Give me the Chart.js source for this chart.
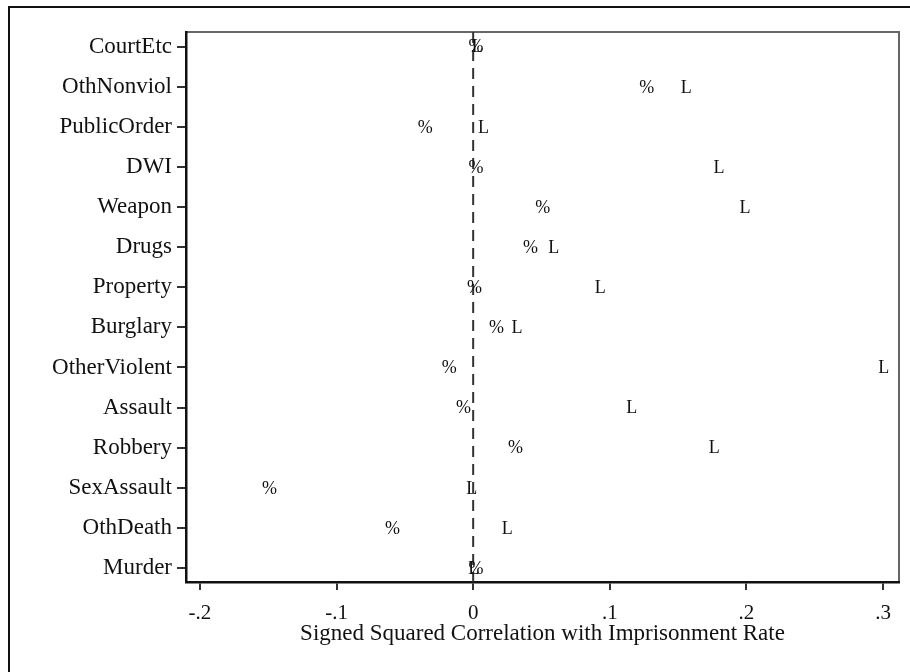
<!DOCTYPE html>
<html>
<head>
<meta charset="utf-8">
<title>Signed squared correlations</title>
<script src="https://cdn.jsdelivr.net/npm/chart.js@4.4.0/dist/chart.umd.min.js"></script>
<style>
  html, body { margin: 0; padding: 0; background: #fff; }
  #wrap { position: relative; width: 910px; height: 672px; overflow: hidden; }
  /* outer frame: only top and left edges fall inside the page */
  #frame { position: absolute; left: 8px; top: 6px; width: 1000px; height: 1000px;
           border-top: 2px solid #111; border-left: 2px solid #111; }
  #myChart { position: absolute; left: 0; top: 0; }
</style>
</head>
<body>
<div id="wrap">
  <div id="frame"></div>
  <canvas id="myChart" width="910" height="672"></canvas>
</div>
<script>
// offense categories, bottom to top
var offenses = ["Murder", "OthDeath", "SexAssault", "Robbery", "Assault", "OtherViolent",
                "Burglary", "Property", "Drugs", "Weapon", "DWI", "PublicOrder", "OthNonviol", "CourtEtc"];

// "%" markers
var pctValues = [0.002, -0.059, -0.149, 0.031, -0.007, -0.0175,
                 0.017, 0.001, 0.042, 0.051, 0.002, -0.035, 0.127, 0.002];

// "L" markers
var levelValues = [0.0004, 0.025, -0.001, 0.1765, 0.116, 0.3005,
                   0.032, 0.093, 0.059, 0.199, 0.18, 0.0075, 0.156, 0.003];

var xTicks = [-0.2, -0.1, 0, 0.1, 0.2, 0.3];
var xTitle = "Signed Squared Correlation with Imprisonment Rate";

var serif = "'Liberation Serif', 'Times New Roman', serif";

function points(vals) {
    return vals.map(function (v, i) { return { x: v, y: i + 1 }; });
}

function fmtTick(v) {
    if (v === 0) return "0";
    var s = Math.abs(v).toFixed(1).replace(/^0/, "");
    return (v < 0 ? "-" : "") + s;
}

// grey box around the plot region (left/bottom get covered by the axis lines)
var plotBox = {
    id: 'plotBox',
    beforeDraw: function (chart) {
        var a = chart.chartArea, c = chart.ctx;
        c.save();
        c.strokeStyle = '#666';
        c.lineWidth = 2;
        c.strokeRect(a.left, a.top, a.right - a.left, a.bottom - a.top);
        c.restore();
    }
};

// dashed reference line at x = 0
var zeroLine = {
    id: 'zeroLine',
    beforeDatasetsDraw: function (chart) {
        var a = chart.chartArea, c = chart.ctx;
        var x = chart.scales.x.getPixelForValue(0);
        c.save();
        c.strokeStyle = '#333';
        c.lineWidth = 2;
        c.setLineDash([11, 7]);
        c.beginPath();
        c.moveTo(x, a.top);
        c.lineTo(x, a.bottom);
        c.stroke();
        c.restore();
    }
};

// draw each point as a text symbol
var symbolMarks = {
    id: 'symbolMarks',
    afterDatasetsDraw: function (chart) {
        var c = chart.ctx;
        c.save();
        c.fillStyle = '#111';
        c.font = "18px " + serif;
        c.textAlign = 'center';
        c.textBaseline = 'middle';
        chart.data.datasets.forEach(function (ds, i) {
            chart.getDatasetMeta(i).data.forEach(function (pt) {
                c.fillText(ds.symbol, pt.x, pt.y + 1);
            });
        });
        c.restore();
    }
};

var ctx = document.getElementById("myChart").getContext('2d');

var myChart = new Chart(ctx, {
    type: 'scatter',
    data: {
        datasets: [
            { label: '%', symbol: '%', data: points(pctValues), pointRadius: 0, pointHoverRadius: 0 },
            { label: 'L', symbol: 'L', data: points(levelValues), pointRadius: 0, pointHoverRadius: 0 }
        ]
    },
    options: {
        responsive: false,
        animation: false,
        devicePixelRatio: 1,
        layout: { padding: { left: 0, top: 32, right: 11, bottom: 0 } },
        plugins: {
            legend: { display: false },
            tooltip: { enabled: false }
        },
        scales: {
            x: {
                type: 'linear',
                position: 'bottom',
                min: -0.2102,
                max: 0.3117,
                afterBuildTicks: function (s) { s.ticks = xTicks.map(function (v) { return { value: v }; }); },
                afterFit: function (s) { s.height = 90; },
                ticks: {
                    callback: function (v) { return fmtTick(v); },
                    font: { family: serif, size: 21 },
                    color: '#111',
                    padding: 11,
                    maxRotation: 0,
                    autoSkip: false
                },
                grid: { drawOnChartArea: false, drawTicks: true, tickLength: 8, color: '#333', lineWidth: 2 },
                border: { display: true, color: '#111', width: 2.5 },
                title: {
                    display: true,
                    text: xTitle,
                    font: { family: serif, size: 23 },
                    color: '#111',
                    padding: { top: 0, bottom: 24 }
                }
            },
            y: {
                type: 'linear',
                position: 'left',
                min: 0.651,
                max: 14.366,
                afterBuildTicks: function (s) { s.ticks = offenses.map(function (o, i) { return { value: i + 1 }; }); },
                afterFit: function (s) { s.width = 186; },
                ticks: {
                    callback: function (v) { return offenses[v - 1]; },
                    font: { family: serif, size: 23 },
                    color: '#111',
                    padding: 5,
                    autoSkip: false
                },
                grid: { drawOnChartArea: false, drawTicks: true, tickLength: 9, color: '#333', lineWidth: 2 },
                border: { display: true, color: '#111', width: 2.5 }
            }
        }
    },
    plugins: [plotBox, zeroLine, symbolMarks]
});
</script>
</body>
</html>
